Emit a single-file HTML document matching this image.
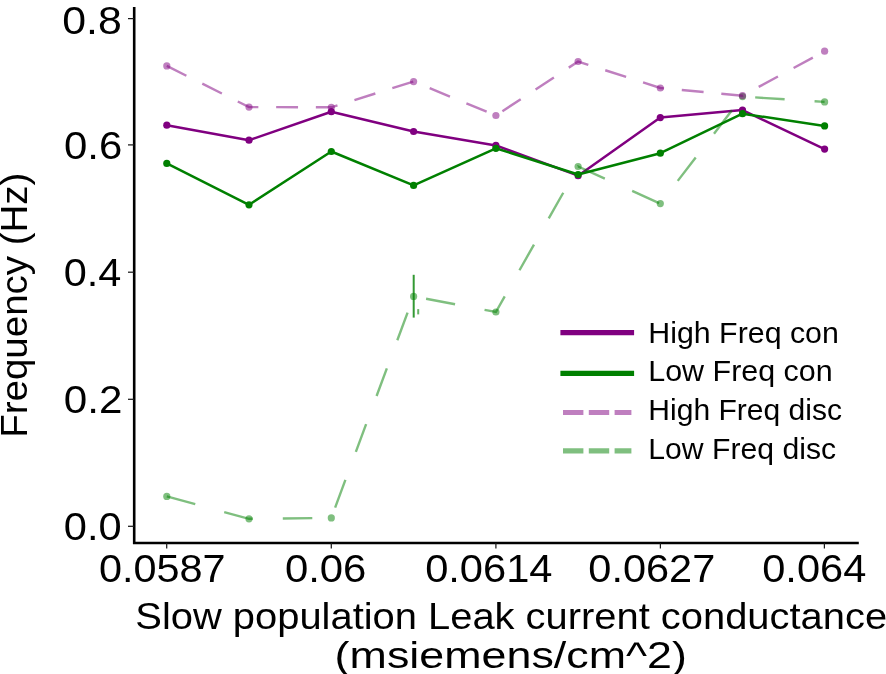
<!DOCTYPE html>
<html><head><meta charset="utf-8"><style>
html,body{margin:0;padding:0;background:#fff;width:886px;height:674px;overflow:hidden}
svg{display:block;will-change:transform;font-family:"Liberation Sans", sans-serif}
</style></head><body>
<svg width="886" height="674" viewBox="0 0 886 674"><rect width="886" height="674" fill="#fff"/><path d="M134.2 7 V543 H858.8" fill="none" stroke="#000" stroke-width="2.6"/><line x1="128" y1="18.6" x2="134" y2="18.6" stroke="#1a1a1a" stroke-width="1.25"/><line x1="128" y1="144.9" x2="134" y2="144.9" stroke="#1a1a1a" stroke-width="1.25"/><line x1="128" y1="272.2" x2="134" y2="272.2" stroke="#1a1a1a" stroke-width="1.25"/><line x1="128" y1="399.3" x2="134" y2="399.3" stroke="#1a1a1a" stroke-width="1.25"/><line x1="128" y1="526.3" x2="134" y2="526.3" stroke="#1a1a1a" stroke-width="1.25"/><line x1="166.7" y1="543" x2="166.7" y2="548.5" stroke="#1a1a1a" stroke-width="1.25"/><line x1="331.3" y1="543" x2="331.3" y2="548.5" stroke="#1a1a1a" stroke-width="1.25"/><line x1="495.9" y1="543" x2="495.9" y2="548.5" stroke="#1a1a1a" stroke-width="1.25"/><line x1="660.4" y1="543" x2="660.4" y2="548.5" stroke="#1a1a1a" stroke-width="1.25"/><line x1="824.4" y1="543" x2="824.4" y2="548.5" stroke="#1a1a1a" stroke-width="1.25"/><polyline points="166.8,125.20 249.0,140.20 331.3,111.70 413.6,131.50 495.9,145.40 578.1,175.70 660.3,117.60 742.5,110.10 824.6,149.10" fill="none" stroke="#800080" stroke-width="2.5" stroke-linejoin="round"/><circle cx="166.8" cy="125.20" r="3.6" fill="#800080" fill-opacity="1"/><circle cx="249.0" cy="140.20" r="3.6" fill="#800080" fill-opacity="1"/><circle cx="331.3" cy="111.70" r="3.6" fill="#800080" fill-opacity="1"/><circle cx="413.6" cy="131.50" r="3.6" fill="#800080" fill-opacity="1"/><circle cx="495.9" cy="145.40" r="3.6" fill="#800080" fill-opacity="1"/><circle cx="578.1" cy="175.70" r="3.6" fill="#800080" fill-opacity="1"/><circle cx="660.3" cy="117.60" r="3.6" fill="#800080" fill-opacity="1"/><circle cx="742.5" cy="110.10" r="3.6" fill="#800080" fill-opacity="1"/><circle cx="824.6" cy="149.10" r="3.6" fill="#800080" fill-opacity="1"/><polyline points="166.8,163.40 249.0,204.80 331.3,151.50 413.6,185.40 495.9,148.30 578.1,174.50 660.3,153.20 742.5,113.70 824.6,125.90" fill="none" stroke="#008000" stroke-width="2.5" stroke-linejoin="round"/><circle cx="166.8" cy="163.40" r="3.6" fill="#008000" fill-opacity="1"/><circle cx="249.0" cy="204.80" r="3.6" fill="#008000" fill-opacity="1"/><circle cx="331.3" cy="151.50" r="3.6" fill="#008000" fill-opacity="1"/><circle cx="413.6" cy="185.40" r="3.6" fill="#008000" fill-opacity="1"/><circle cx="495.9" cy="148.30" r="3.6" fill="#008000" fill-opacity="1"/><circle cx="578.1" cy="174.50" r="3.6" fill="#008000" fill-opacity="1"/><circle cx="660.3" cy="153.20" r="3.6" fill="#008000" fill-opacity="1"/><circle cx="742.5" cy="113.70" r="3.6" fill="#008000" fill-opacity="1"/><circle cx="824.6" cy="125.90" r="3.6" fill="#008000" fill-opacity="1"/><polyline points="166.8,496.40 249.0,518.80 331.3,517.90 413.6,296.40 495.9,312.00 578.1,166.50 660.3,203.60 742.5,96.60 824.6,101.90" fill="none" stroke="#008000" stroke-opacity="0.5" stroke-width="2.4" stroke-dasharray="29.5 30"/><circle cx="166.8" cy="496.40" r="3.6" fill="#008000" fill-opacity="0.5"/><circle cx="249.0" cy="518.80" r="3.6" fill="#008000" fill-opacity="0.5"/><circle cx="331.3" cy="517.90" r="3.6" fill="#008000" fill-opacity="0.5"/><circle cx="413.6" cy="296.40" r="3.6" fill="#008000" fill-opacity="0.5"/><circle cx="495.9" cy="312.00" r="3.6" fill="#008000" fill-opacity="0.5"/><circle cx="578.1" cy="166.50" r="3.6" fill="#008000" fill-opacity="0.5"/><circle cx="660.3" cy="203.60" r="3.6" fill="#008000" fill-opacity="0.5"/><circle cx="742.5" cy="96.60" r="3.6" fill="#008000" fill-opacity="0.5"/><circle cx="824.6" cy="101.90" r="3.6" fill="#008000" fill-opacity="0.5"/><polyline points="166.8,65.90 249.0,107.10 331.3,107.30 413.6,81.55 495.9,115.50 578.1,61.50 660.3,88.00 742.5,95.70 824.6,51.20" fill="none" stroke="#800080" stroke-opacity="0.5" stroke-width="2.4" stroke-dasharray="21.9 17.8"/><circle cx="166.8" cy="65.90" r="3.6" fill="#800080" fill-opacity="0.5"/><circle cx="249.0" cy="107.10" r="3.6" fill="#800080" fill-opacity="0.5"/><circle cx="331.3" cy="107.30" r="3.6" fill="#800080" fill-opacity="0.5"/><circle cx="413.6" cy="81.55" r="3.6" fill="#800080" fill-opacity="0.5"/><circle cx="495.9" cy="115.50" r="3.6" fill="#800080" fill-opacity="0.5"/><circle cx="578.1" cy="61.50" r="3.6" fill="#800080" fill-opacity="0.5"/><circle cx="660.3" cy="88.00" r="3.6" fill="#800080" fill-opacity="0.5"/><circle cx="742.5" cy="95.70" r="3.6" fill="#800080" fill-opacity="0.5"/><circle cx="824.6" cy="51.20" r="3.6" fill="#800080" fill-opacity="0.5"/><line x1="413.7" y1="274.8" x2="413.7" y2="317.6" stroke="#008000" stroke-opacity="0.8" stroke-width="2"/><line x1="418.2" y1="309.1" x2="418.2" y2="314.4" stroke="#008000" stroke-opacity="0.6" stroke-width="2"/><text transform="translate(62.29,33.71) scale(1.1270,1)" font-size="38">0.8</text><text transform="translate(64.02,158.91) scale(1.1029,1)" font-size="38">0.6</text><text transform="translate(63.74,285.66) scale(1.0905,1)" font-size="38">0.4</text><text transform="translate(63.81,412.81) scale(1.1093,1)" font-size="38">0.2</text><text transform="translate(63.84,539.81) scale(1.0948,1)" font-size="38">0.0</text><text transform="translate(98.94,582.16) scale(1.0898,1)" font-size="38">0.0587</text><text transform="translate(284.92,582.16) scale(1.1022,1)" font-size="38">0.06</text><text transform="translate(425.13,582.16) scale(1.0966,1)" font-size="38">0.0614</text><text transform="translate(588.34,582.16) scale(1.0925,1)" font-size="38">0.0627</text><text transform="translate(762.24,582.16) scale(1.0949,1)" font-size="38">0.064</text><text transform="translate(135.30,629.30) scale(1.0727,1)" font-size="37.2">Slow population Leak current conductance</text><text transform="translate(334.61,668.30) scale(1.2052,1)" font-size="37.2">(msiemens/cm^2)</text><text transform="translate(27.10,434.70) rotate(-90) scale(1.0350,1) translate(-2.98,0)" font-size="37.2">Frequency (Hz)</text><line x1="560.4" y1="332.7" x2="634.1" y2="332.7" stroke="#800080" stroke-width="5.2"/><text transform="translate(648.27,342.70) scale(1.0086,1)" font-size="30.1">High Freq con</text><line x1="560.4" y1="373.3" x2="634.1" y2="373.3" stroke="#008000" stroke-width="5.2"/><text transform="translate(648.26,380.70) scale(1.0119,1)" font-size="30.1">Low Freq con</text><line x1="563" y1="412.5" x2="631.4" y2="412.5" stroke="#800080" stroke-opacity="0.5" stroke-width="5.2" stroke-dasharray="20.4 5.4"/><text transform="translate(648.29,420.30) scale(0.9988,1)" font-size="30.1">High Freq disc</text><line x1="563" y1="450.8" x2="631.4" y2="450.8" stroke="#008000" stroke-opacity="0.5" stroke-width="5.2" stroke-dasharray="20.4 5.4"/><text transform="translate(648.29,458.90) scale(1.0026,1)" font-size="30.1">Low Freq disc</text></svg>
</body></html>
